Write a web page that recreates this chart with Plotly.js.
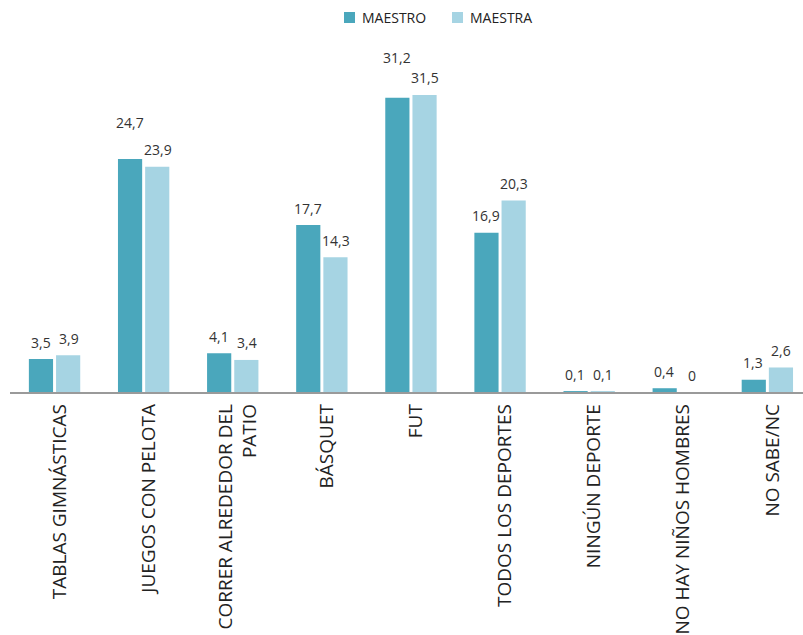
<!DOCTYPE html>
<html><head><meta charset="utf-8">
<script src="https://cdn.plot.ly/plotly-3.0.1.min.js"></script>
<style>html,body{margin:0;padding:0;background:#fff}</style>
</head><body>
<div id="chart" style="width:803px;height:635px"></div>
<script>
const categories = ["TABLAS GIMNÁSTICAS","JUEGOS CON PELOTA","CORRER ALREDEDOR DEL<br>PATIO","BÁSQUET","FUT","TODOS LOS DEPORTES","NINGÚN DEPORTE","NO HAY NIÑOS HOMBRES","NO SABE/NC"];
const maestro = [3.5, 24.7, 4.1, 17.7, 31.2, 16.9, 0.1, 0.4, 1.3];
const maestra = [3.9, 23.9, 3.4, 14.3, 31.5, 20.3, 0.1, 0, 2.6];
const seriesNames = ["MAESTRO","MAESTRA"];

const colors = ["#4aa7bc", "#a6d4e3"];
const fmt = v => String(v).replace(".", ",");
const FONT = "Open Sans, DejaVu Sans, sans-serif";

const W = 803, H = 635, ML = 10, MR = 0, MT = 5, MB = 243;
const PW = W - ML - MR, PH = H - MT - MB;
const px2x = p => (p - ML) / PW;
const py2y = p => (H - MB - p) / PH;

const traces = [maestro, maestra].map((vals, i) => ({
  type: "bar",
  name: seriesNames[i],
  x: categories,
  y: vals,
  marker: {color: colors[i]},
  hoverinfo: "none",
  showlegend: false
}));

// value labels as annotations (offsets are layout-only)
const extraLift = {"0|1": 20, "0|4": 23};
const annotations = [];
[maestro, maestra].forEach((vals, s) => {
  vals.forEach((v, k) => {
    annotations.push({
      x: k, y: v, xref: "x", yref: "y",
      xshift: s === 0 ? -14 : 14,
      yshift: 17 + (extraLift[s + "|" + k] || 0),
      text: fmt(v), showarrow: false,
      font: {family: FONT, size: 14, color: "#333"}
    });
  });
});

// custom compact legend
const legendX = [344, 452];
const shapes = [];
seriesNames.forEach((n, i) => {
  shapes.push({type: "rect", xref: "paper", yref: "paper",
    x0: px2x(legendX[i]), x1: px2x(legendX[i] + 11),
    y0: py2y(23), y1: py2y(12),
    fillcolor: colors[i], line: {width: 0}});
  annotations.push({xref: "paper", yref: "paper",
    x: px2x(legendX[i] + 16), y: py2y(17.5), xanchor: "left", yanchor: "middle",
    text: n, showarrow: false,
    font: {family: FONT, size: 14, color: "#222"}});
});

const layout = {
  width: W, height: H,
  margin: {l: ML, r: MR, t: MT, b: MB},
  paper_bgcolor: "#fff", plot_bgcolor: "#fff",
  barmode: "group", bargap: 0.39, bargroupgap: 0.11,
  showlegend: false,
  xaxis: {
    type: "category", range: [-0.5, 8.4],
    tickangle: -90, tickfont: {family: FONT, size: 19, color: "#222"},
    ticklabelshift: 5, ticklabelstandoff: 3,
    showline: true, linecolor: "#9a9a9a", linewidth: 1.5,
    ticks: "", showgrid: false, zeroline: false, automargin: false
  },
  yaxis: {range: [0, 41.04], visible: false, showgrid: false, zeroline: false},
  annotations: annotations,
  shapes: shapes,
  font: {family: FONT}
};

Plotly.newPlot("chart", traces, layout, {displayModeBar: false, staticPlot: true});
</script>
</body></html>
